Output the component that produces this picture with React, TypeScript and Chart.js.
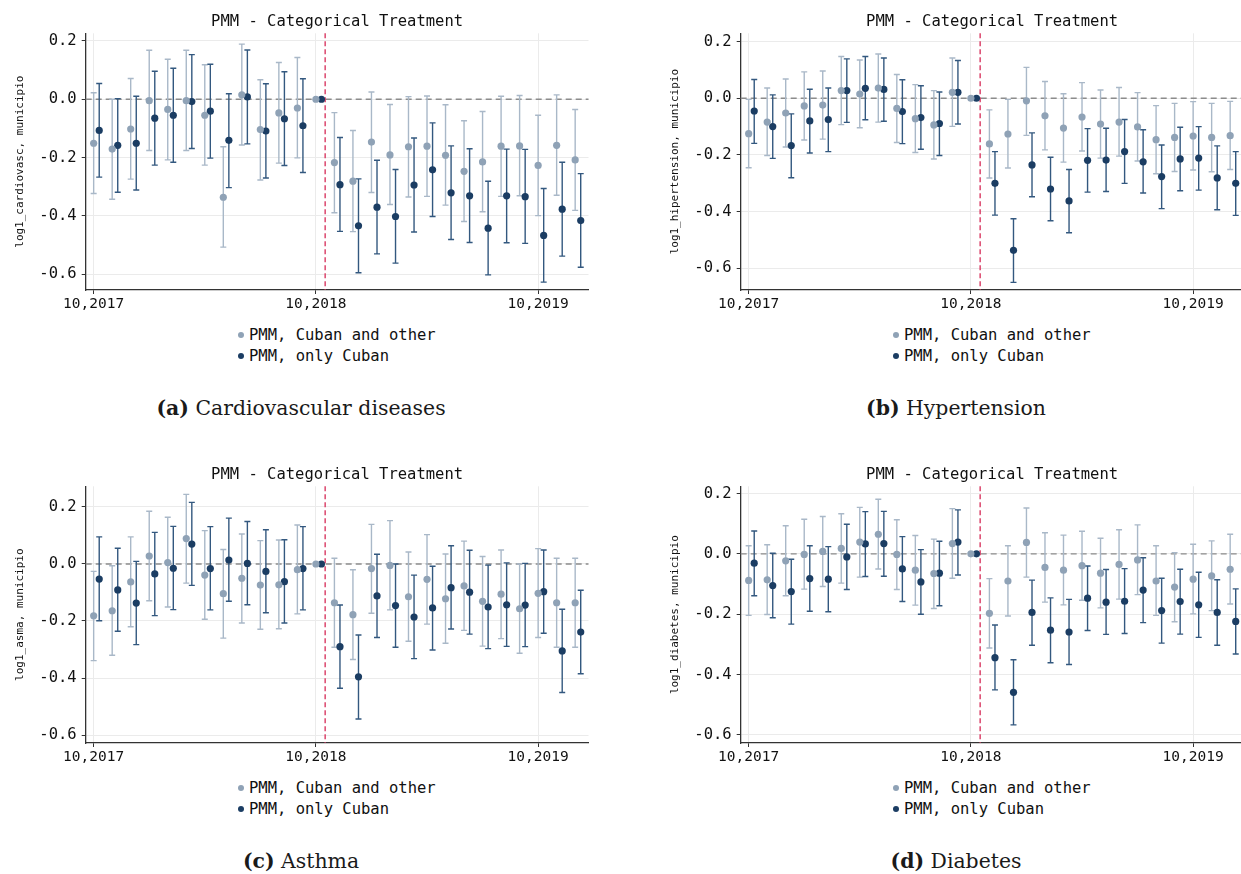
import React, { useEffect, useRef } from "react";
import { Chart, registerables } from "chart.js";

Chart.register(...registerables);

// ---------- categories / ticks ----------
const periods = [
  "10,2017", "11,2017", "12,2017", "1,2018", "2,2018", "3,2018", "4,2018", "5,2018", "6,2018",
  "7,2018", "8,2018", "9,2018", "10,2018", "11,2018", "12,2018", "1,2019", "2,2019", "3,2019",
  "4,2019", "5,2019", "6,2019", "7,2019", "8,2019", "9,2019", "10,2019", "11,2019", "12,2019",
];
const tickIndex = [0, 12, 24];
const tickLabels = ["10,2017", "10,2018", "10,2019"];
const yTicks = [0.2, 0.0, -0.2, -0.4, -0.6];
const cubanOffset = 0.3;
const treatmentLine = 12.5;
const xMin = -0.43;
const xMax = 26.72;

// ---------- (a) Cardiovascular ----------
const cardioOtherEst = [-0.151, -0.171, -0.102, -0.005, -0.035, -0.005, -0.055, -0.336, 0.015, -0.104, -0.047, -0.03, 0, -0.217, -0.281, -0.147, -0.191, -0.163, -0.161, -0.192, -0.247, -0.215, -0.161, -0.16, -0.227, -0.158, -0.208];
const cardioOtherLo = [-0.323, -0.343, -0.274, -0.176, -0.208, -0.176, -0.226, -0.507, -0.157, -0.277, -0.219, -0.201, 0, -0.389, -0.454, -0.32, -0.361, -0.335, -0.333, -0.363, -0.419, -0.386, -0.333, -0.331, -0.399, -0.329, -0.381];
const cardioOtherHi = [0.022, 0.0, 0.071, 0.168, 0.137, 0.168, 0.118, -0.163, 0.189, 0.067, 0.126, 0.143, 0, -0.046, -0.107, 0.025, -0.018, 0.009, 0.011, -0.019, -0.074, -0.042, 0.01, 0.013, -0.055, 0.015, -0.035];
const cardioCubanEst = [-0.107, -0.158, -0.151, -0.065, -0.055, -0.008, -0.041, -0.141, 0.008, -0.109, -0.067, -0.091, 0, -0.293, -0.434, -0.37, -0.402, -0.294, -0.242, -0.321, -0.331, -0.442, -0.331, -0.334, -0.467, -0.377, -0.416];
const cardioCubanLo = [-0.267, -0.319, -0.311, -0.226, -0.216, -0.169, -0.202, -0.303, -0.153, -0.27, -0.227, -0.251, 0, -0.453, -0.595, -0.53, -0.562, -0.455, -0.402, -0.481, -0.491, -0.602, -0.492, -0.494, -0.627, -0.538, -0.576];
const cardioCubanHi = [0.054, 0.002, 0.01, 0.096, 0.106, 0.153, 0.12, 0.019, 0.169, 0.053, 0.094, 0.07, 0, -0.131, -0.273, -0.209, -0.241, -0.133, -0.081, -0.16, -0.17, -0.281, -0.171, -0.172, -0.306, -0.216, -0.255];

// ---------- (b) Hypertension ----------
const hiperOtherEst = [-0.125, -0.084, -0.052, -0.027, -0.024, 0.027, 0.015, 0.036, -0.036, -0.072, -0.094, 0.021, 0, -0.161, -0.126, -0.009, -0.062, -0.105, -0.066, -0.091, -0.084, -0.101, -0.146, -0.138, -0.133, -0.138, -0.132];
const hiperOtherLo = [-0.245, -0.202, -0.172, -0.147, -0.144, -0.093, -0.104, -0.084, -0.156, -0.191, -0.214, -0.099, 0, -0.281, -0.246, -0.131, -0.182, -0.225, -0.186, -0.211, -0.204, -0.221, -0.266, -0.258, -0.253, -0.259, -0.251];
const hiperOtherHi = [-0.004, 0.036, 0.068, 0.093, 0.096, 0.147, 0.135, 0.156, 0.084, 0.048, 0.027, 0.142, 0, -0.041, -0.004, 0.109, 0.059, 0.016, 0.055, 0.029, 0.038, 0.02, -0.026, -0.018, -0.012, -0.018, -0.011];
const hiperCubanEst = [-0.045, -0.1, -0.167, -0.08, -0.075, 0.027, 0.035, 0.031, -0.047, -0.068, -0.089, 0.021, 0, -0.3, -0.536, -0.235, -0.32, -0.362, -0.219, -0.218, -0.188, -0.224, -0.276, -0.214, -0.211, -0.281, -0.3];
const hiperCubanLo = [-0.159, -0.212, -0.28, -0.193, -0.188, -0.085, -0.076, -0.081, -0.16, -0.18, -0.202, -0.091, 0, -0.412, -0.649, -0.347, -0.432, -0.474, -0.331, -0.329, -0.3, -0.334, -0.389, -0.326, -0.324, -0.393, -0.413];
const hiperCubanHi = [0.066, 0.012, -0.055, 0.032, 0.036, 0.139, 0.147, 0.142, 0.065, 0.044, 0.022, 0.133, 0, -0.188, -0.425, -0.122, -0.208, -0.251, -0.107, -0.106, -0.075, -0.111, -0.165, -0.102, -0.1, -0.168, -0.188];

// ---------- (c) Asthma ----------
const asmaOtherEst = [-0.182, -0.164, -0.063, 0.028, 0.005, 0.089, -0.039, -0.104, -0.05, -0.074, -0.073, -0.02, 0, -0.136, -0.178, -0.016, -0.005, -0.115, -0.054, -0.122, -0.077, -0.131, -0.106, -0.157, -0.103, -0.136, -0.136];
const asmaOtherLo = [-0.339, -0.32, -0.22, -0.129, -0.151, -0.067, -0.194, -0.26, -0.207, -0.229, -0.227, -0.175, 0, -0.292, -0.335, -0.173, -0.161, -0.271, -0.211, -0.278, -0.233, -0.288, -0.262, -0.313, -0.258, -0.292, -0.292];
const asmaOtherHi = [-0.026, -0.006, 0.095, 0.185, 0.164, 0.244, 0.117, 0.051, 0.105, 0.082, 0.084, 0.137, 0, 0.02, -0.02, 0.139, 0.152, 0.042, 0.103, 0.035, 0.08, 0.026, 0.049, 0.0, 0.054, 0.02, 0.02];
const asmaCubanEst = [-0.053, -0.091, -0.137, -0.035, -0.015, 0.07, -0.016, 0.014, 0.002, -0.026, -0.062, -0.016, 0, -0.29, -0.396, -0.112, -0.146, -0.186, -0.154, -0.083, -0.099, -0.151, -0.143, -0.144, -0.097, -0.305, -0.239];
const asmaCubanLo = [-0.199, -0.236, -0.283, -0.181, -0.16, -0.075, -0.161, -0.131, -0.143, -0.171, -0.207, -0.161, 0, -0.436, -0.544, -0.258, -0.292, -0.332, -0.302, -0.228, -0.246, -0.297, -0.289, -0.29, -0.243, -0.451, -0.385];
const asmaCubanHi = [0.095, 0.055, 0.009, 0.111, 0.132, 0.216, 0.131, 0.161, 0.149, 0.12, 0.085, 0.131, 0, -0.144, -0.249, 0.034, 0.0, -0.039, -0.008, 0.064, 0.048, -0.004, 0.004, 0.002, 0.049, -0.159, -0.092];

// ---------- (d) Diabetes ----------
const diabOtherEst = [-0.088, -0.086, -0.023, -0.002, 0.008, 0.018, 0.039, 0.065, -0.002, -0.054, -0.065, 0.034, 0, -0.197, -0.09, 0.038, -0.045, -0.054, -0.039, -0.064, -0.035, -0.02, -0.09, -0.11, -0.084, -0.073, -0.051];
const diabOtherLo = [-0.204, -0.201, -0.139, -0.117, -0.108, -0.097, -0.077, -0.05, -0.118, -0.17, -0.181, -0.081, 0, -0.312, -0.206, -0.077, -0.16, -0.169, -0.154, -0.179, -0.15, -0.135, -0.204, -0.225, -0.199, -0.188, -0.166];
const diabOtherHi = [0.027, 0.03, 0.093, 0.115, 0.124, 0.133, 0.154, 0.181, 0.113, 0.061, 0.049, 0.15, 0, -0.082, 0.027, 0.152, 0.07, 0.062, 0.075, 0.052, 0.08, 0.096, 0.027, 0.004, 0.032, 0.043, 0.065];
const diabCubanEst = [-0.031, -0.105, -0.125, -0.082, -0.084, -0.01, 0.033, 0.034, -0.05, -0.093, -0.064, 0.039, 0, -0.344, -0.459, -0.194, -0.253, -0.259, -0.147, -0.16, -0.157, -0.12, -0.188, -0.158, -0.169, -0.194, -0.224];
const diabCubanLo = [-0.139, -0.212, -0.233, -0.19, -0.192, -0.118, -0.075, -0.074, -0.158, -0.2, -0.172, -0.07, 0, -0.451, -0.567, -0.303, -0.361, -0.367, -0.254, -0.267, -0.264, -0.228, -0.296, -0.266, -0.277, -0.303, -0.332];
const diabCubanHi = [0.076, 0.002, -0.018, 0.027, 0.024, 0.098, 0.14, 0.141, 0.057, 0.014, 0.042, 0.146, 0, -0.236, -0.351, -0.087, -0.146, -0.151, -0.04, -0.052, -0.049, -0.013, -0.081, -0.051, -0.061, -0.086, -0.116];

// ---------- styling ----------
const MONO = "'DejaVu Sans Mono', monospace";
const SERIF = "'DejaVu Serif', 'Liberation Serif', serif";
const TITLE = "PMM - Categorical Treatment";
const LEGEND_OTHER = "PMM, Cuban and other";
const LEGEND_CUBAN = "PMM, only Cuban";
const LIGHT_PT = "#8fa2b6";
const LIGHT_BAR = "#a9b8c8";
const DARK_PT = "#1b3d63";
const DARK_BAR = "#33587f";
const CANVAS_W = 600;
const CANVAS_H = 312;

const panels = [
  { key: "a", left: 0, top: 0, yLabel: "log1_cardiovasc, municipio", caption: "Cardiovascular diseases", yMin: -0.654, yMax: 0.226,
    oE: cardioOtherEst, oL: cardioOtherLo, oH: cardioOtherHi, cE: cardioCubanEst, cL: cardioCubanLo, cH: cardioCubanHi },
  { key: "b", left: 655, top: 0, yLabel: "log1_hipertension, municipio", caption: "Hypertension", yMin: -0.676, yMax: 0.229,
    oE: hiperOtherEst, oL: hiperOtherLo, oH: hiperOtherHi, cE: hiperCubanEst, cL: hiperCubanLo, cH: hiperCubanHi },
  { key: "c", left: 0, top: 453, yLabel: "log1_asma, municipio", caption: "Asthma", yMin: -0.628, yMax: 0.2725,
    oE: asmaOtherEst, oL: asmaOtherLo, oH: asmaOtherHi, cE: asmaCubanEst, cL: asmaCubanLo, cH: asmaCubanHi },
  { key: "d", left: 655, top: 453, yLabel: "log1_diabetes, municipio", caption: "Diabetes", yMin: -0.627, yMax: 0.224,
    oE: diabOtherEst, oL: diabOtherLo, oH: diabOtherHi, cE: diabCubanEst, cL: diabCubanLo, cH: diabCubanHi },
];

const refLinesPlugin = {
  id: "refLines",
  beforeDatasetsDraw(chart: any) {
    const { ctx, chartArea, scales } = chart;
    const x = scales.x, y = scales.y;
    ctx.save();
    const y0 = y.getPixelForValue(0);
    ctx.strokeStyle = "#8c8c8c";
    ctx.lineWidth = 1.3;
    ctx.setLineDash([6, 4]);
    ctx.beginPath();
    ctx.moveTo(chartArea.left, y0);
    ctx.lineTo(chartArea.right, y0);
    ctx.stroke();
    const xr = x.getPixelForValue(treatmentLine);
    ctx.strokeStyle = "#d93a63";
    ctx.lineWidth = 1.4;
    ctx.setLineDash([5, 3]);
    ctx.beginPath();
    ctx.moveTo(xr, chartArea.top);
    ctx.lineTo(xr, chartArea.bottom);
    ctx.stroke();
    ctx.restore();
  },
};

const errorBarPlugin = {
  id: "errorBars",
  beforeDatasetsDraw(chart: any) {
    const { ctx, chartArea, scales } = chart;
    const x = scales.x, y = scales.y;
    ctx.save();
    ctx.beginPath();
    ctx.rect(chartArea.left, chartArea.top, chartArea.width, chartArea.height);
    ctx.clip();
    chart.data.datasets.forEach((ds: any) => {
      ctx.strokeStyle = ds.barColor;
      ctx.lineWidth = 1.4;
      ds.data.forEach((pt: any, i: number) => {
        const lo = ds.errLo[i], hi = ds.errHi[i];
        if (lo === hi) return;
        const px = x.getPixelForValue(pt.x);
        const pl = y.getPixelForValue(lo);
        const ph = y.getPixelForValue(hi);
        ctx.beginPath();
        ctx.moveTo(px, pl);
        ctx.lineTo(px, ph);
        ctx.moveTo(px - 3, pl);
        ctx.lineTo(px + 3, pl);
        ctx.moveTo(px - 3, ph);
        ctx.lineTo(px + 3, ph);
        ctx.stroke();
      });
    });
    ctx.restore();
  },
};

function Panel({ p }: { p: any }) {
  const ref = useRef<HTMLCanvasElement>(null);
  useEffect(() => {
    if (!ref.current) return;
    const chart = new Chart(ref.current, {
      type: "scatter",
      data: {
        datasets: [
          {
            label: LEGEND_OTHER,
            data: periods.map((_, i) => ({ x: i, y: p.oE[i] })),
            errLo: p.oL, errHi: p.oH, barColor: LIGHT_BAR,
            backgroundColor: LIGHT_PT, borderColor: LIGHT_PT, borderWidth: 0,
            pointRadius: 3.6,
          } as any,
          {
            label: LEGEND_CUBAN,
            data: periods.map((_, i) => ({ x: i + cubanOffset, y: p.cE[i] })),
            errLo: p.cL, errHi: p.cH, barColor: DARK_BAR,
            backgroundColor: DARK_PT, borderColor: DARK_PT, borderWidth: 0,
            pointRadius: 3.6,
          } as any,
        ],
      },
      options: {
        responsive: false,
        animation: false,
        layout: { padding: { left: 8, right: 11.5, top: 0, bottom: 0 } },
        plugins: {
          legend: { display: false },
          tooltip: { enabled: false },
          title: {
            display: true, text: TITLE, color: "#111", fullSize: false,
            font: { family: MONO, size: 15.5, weight: "normal" },
            padding: { top: 13, bottom: 1.7 },
          },
        },
        scales: {
          x: {
            type: "linear", min: xMin, max: xMax,
            afterBuildTicks: (s: any) => { s.ticks = tickIndex.map((v) => ({ value: v })); },
            afterFit: (s: any) => { s.height = 22; },
            ticks: {
              autoSkip: false, maxRotation: 0, padding: 2, color: "#111",
              font: { family: MONO, size: 14.5 },
              callback: (v: any) => tickLabels[tickIndex.indexOf(Number(v))],
            },
            grid: { color: "#ebebeb", lineWidth: 1, tickColor: "#333", tickLength: 4 },
            border: { color: "#333", width: 1.3 },
          },
          y: {
            type: "linear", min: p.yMin, max: p.yMax,
            afterBuildTicks: (s: any) => { s.ticks = yTicks.map((v) => ({ value: v })); },
            afterFit: (s: any) => { s.width = 77.7; },
            ticks: {
              padding: 5, color: "#111",
              font: { family: MONO, size: 15.5 },
              callback: (v: any) => Number(v).toFixed(1),
            },
            grid: { color: "#ebebeb", lineWidth: 1, tickColor: "#333", tickLength: 4 },
            border: { color: "#333", width: 1.3 },
            title: {
              display: true, text: p.yLabel, color: "#111",
              font: { family: MONO, size: 11 },
              padding: { top: 6, bottom: 0 },
            },
          },
        },
      } as any,
      plugins: [refLinesPlugin, errorBarPlugin],
    });
    return () => chart.destroy();
  }, [p]);

  const legendLeft = p.left + 238;
  const legendTop = p.top + 325;
  const capCenter = p.left === 0 ? 301 : 956;
  const dot = (c: string) => (
    <span style={{ display: "inline-block", width: 6, height: 6, borderRadius: 3, background: c, marginRight: 5, verticalAlign: "middle", position: "relative", top: -1 }} />
  );
  return (
    <>
      <canvas ref={ref} width={CANVAS_W} height={CANVAS_H}
        style={{ position: "absolute", left: p.left, top: p.top, width: CANVAS_W, height: CANVAS_H }} />
      <div style={{ position: "absolute", left: legendLeft, top: legendTop, fontFamily: MONO, fontSize: 15.5, lineHeight: "21px", color: "#111", whiteSpace: "nowrap" }}>
        <div>{dot(LIGHT_PT)}{LEGEND_OTHER}</div>
        <div>{dot(DARK_PT)}{LEGEND_CUBAN}</div>
      </div>
      <div style={{ position: "absolute", left: capCenter - 250, width: 500, top: p.top + 396, textAlign: "center", fontFamily: SERIF, fontSize: 20.4, lineHeight: "24px", color: "#1a1a1a", whiteSpace: "nowrap" }}>
        <b>({p.key})</b> {p.caption}
      </div>
    </>
  );
}

export default function App() {
  return (
    <div style={{ position: "fixed", left: 0, top: 0, width: 1241, height: 874, overflow: "hidden", background: "#fff" }}>
      {panels.map((p) => <Panel key={p.key} p={p} />)}
    </div>
  );
}
